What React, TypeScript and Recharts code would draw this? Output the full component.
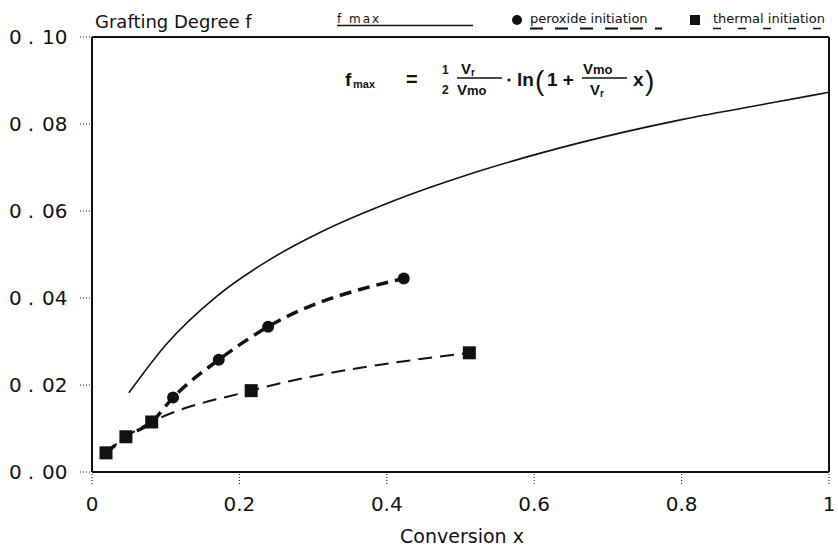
import React from 'react'
import { ComposedChart, Line, XAxis, YAxis, ReferenceLine } from 'recharts'

// axis ticks
const xTicks = [0, 0.2, 0.4, 0.6, 0.8, 1]
const yTicks = [0, 0.02, 0.04, 0.06, 0.08, 0.1]

// f max curve
const fmaxX = [0.05, 0.1, 0.17, 0.24, 0.31, 0.4, 0.53, 0.66, 0.8, 0.93, 1.0]
const fmaxY = [0.0182, 0.0292, 0.0405, 0.0487, 0.0551, 0.0617, 0.0694, 0.0756, 0.081, 0.0851, 0.0873]

// peroxide initiation (first three points lie under the squares)
const peroxideX = [0.019, 0.046, 0.081, 0.11, 0.172, 0.239, 0.423]
const peroxideY = [0.0044, 0.0081, 0.0115, 0.0171, 0.0258, 0.0334, 0.0445]

// thermal initiation
const thermalX = [0.019, 0.046, 0.081, 0.216, 0.512]
const thermalY = [0.0044, 0.0081, 0.0115, 0.0187, 0.0274]

const zip = (xs: number[], ys: number[]) => xs.map((x, i) => ({ x, y: ys[i] }))

const fmaxData = zip(fmaxX, fmaxY)
const peroxideData = zip(peroxideX, peroxideY)
const thermalData = zip(thermalX, thermalY)

const FONT = 'DejaVu Sans'
const INK = '#111'

function YTick(props: any) {
  const { y, payload } = props
  const s = Number(payload.value).toFixed(2)
  return (
    <text x={9} y={y} dy={7} fontSize={20} fontFamily={FONT} fill={INK}>
      <tspan>{s[0]}</tspan>
      <tspan dx={6}>{s[1]}</tspan>
      <tspan dx={8}>{s.slice(2)}</tspan>
    </text>
  )
}

function PeroxideDot(props: any) {
  const { cx, cy, index } = props
  if (index < 3 || cx == null) return <g key={index} />
  return <circle key={index} cx={cx} cy={cy} r={6} fill={INK} />
}

function SquareDot(props: any) {
  const { cx, cy, index } = props
  if (cx == null) return <g key={index} />
  return <rect key={index} x={cx - 6.5} y={cy - 6.5} width={13} height={13} fill={INK} />
}

function Overlay() {
  const b = { fontFamily: 'Liberation Sans', fontWeight: 700, fill: INK }
  return (
    <svg
      width={838}
      height={549}
      style={{ position: 'absolute', left: 0, top: 0, pointerEvents: 'none' }}
    >
      <text x={95} y={28} fontSize={18} fontFamily={FONT} fill={INK}>
        Grafting Degree f
      </text>

      {/* legend */}
      <text x={337} y={23} fontSize={12} fontFamily={FONT} fill={INK} letterSpacing={2}>
        f max
      </text>
      <line x1={337} x2={473} y1={25.5} y2={25.5} stroke={INK} strokeWidth={1.5} />

      <circle cx={517} cy={20} r={5} fill={INK} />
      <text x={530} y={23} fontSize={13} fontFamily={FONT} fill={INK}>
        peroxide initiation
      </text>
      <line x1={530} x2={662} y1={28.5} y2={28.5} stroke={INK} strokeWidth={2} strokeDasharray="13 12" />

      <rect x={690} y={15} width={10} height={10} fill={INK} />
      <text x={713} y={23} fontSize={13} fontFamily={FONT} fill={INK}>
        thermal initiation
      </text>
      <line x1={713} x2={836} y1={28.5} y2={28.5} stroke={INK} strokeWidth={1.5} strokeDasharray="8 17" />

      {/* formula */}
      <text x={345} y={86} fontSize={19} {...b}>f</text>
      <text x={353} y={88} fontSize={11} {...b}>max</text>
      <text x={406} y={86} fontSize={20} {...b}>=</text>
      <text x={442} y={74} fontSize={12} {...b}>1</text>
      <text x={442} y={94} fontSize={12} {...b}>2</text>
      <text x={461} y={74} fontSize={15} {...b}>
        V<tspan fontSize={10} dy={2}>r</tspan>
      </text>
      <line x1={457} x2={502} y1={78} y2={78} stroke={INK} strokeWidth={1.5} />
      <text x={457} y={95} fontSize={15} {...b}>
        V<tspan fontSize={13}>mo</tspan>
      </text>
      <circle cx={509} cy={80} r={1.6} fill={INK} />
      <text x={517} y={86} fontSize={19} {...b}>ln</text>
      <text x={535} y={90} fontSize={28} fontFamily="Liberation Sans" fill={INK}>(</text>
      <text x={547} y={86} fontSize={19} {...b}>1 +</text>
      <text x={583} y={74} fontSize={15} {...b}>
        V<tspan fontSize={13}>mo</tspan>
      </text>
      <line x1={582} x2={627} y1={78} y2={78} stroke={INK} strokeWidth={1.5} />
      <text x={590} y={95} fontSize={15} {...b}>
        V<tspan fontSize={10} dy={2}>r</tspan>
      </text>
      <text x={633} y={86} fontSize={19} {...b}>x</text>
      <text x={645} y={90} fontSize={28} fontFamily="Liberation Sans" fill={INK}>)</text>

      <text x={462} y={543} fontSize={19} fontFamily={FONT} fill={INK} textAnchor="middle">
        Conversion x
      </text>
    </svg>
  )
}

export default function App() {
  return (
    <div style={{ position: 'absolute', left: 0, top: 0, width: 838, height: 549, background: '#fff' }}>
      <ComposedChart
        width={838}
        height={549}
        margin={{ top: 37, right: 9, bottom: 0, left: 0 }}
        style={{ fontFamily: FONT }}
      >
        <XAxis
          type="number"
          dataKey="x"
          domain={[0, 1]}
          ticks={xTicks}
          allowDataOverflow
          height={77}
          tickSize={12}
          tickMargin={13}
          tickFormatter={(v: number) => String(v)}
          tick={{ fontSize: 20, fill: INK, fontFamily: FONT }}
          axisLine={{ stroke: INK, strokeWidth: 2 }}
          tickLine={{ stroke: INK, strokeDasharray: '1 2' }}
        />
        <YAxis
          type="number"
          domain={[0, 0.1]}
          ticks={yTicks}
          allowDataOverflow
          width={92}
          tickSize={12}
          tick={<YTick />}
          axisLine={{ stroke: INK, strokeWidth: 2 }}
          tickLine={{ stroke: INK, strokeDasharray: '1 2' }}
        />
        <ReferenceLine y={0.1} stroke={INK} strokeWidth={2} />
        <ReferenceLine x={1} stroke={INK} strokeWidth={2} />
        <Line
          data={fmaxData}
          dataKey="y"
          type="monotone"
          stroke={INK}
          strokeWidth={1.6}
          dot={false}
          isAnimationActive={false}
        />
        <Line
          data={thermalData}
          dataKey="y"
          type="monotone"
          stroke={INK}
          strokeWidth={2}
          strokeDasharray="14 8"
          dot={<SquareDot />}
          isAnimationActive={false}
        />
        <Line
          data={peroxideData}
          dataKey="y"
          type="monotone"
          stroke={INK}
          strokeWidth={3.5}
          strokeDasharray="12 7"
          dot={<PeroxideDot />}
          isAnimationActive={false}
        />
      </ComposedChart>
      <Overlay />
    </div>
  )
}
